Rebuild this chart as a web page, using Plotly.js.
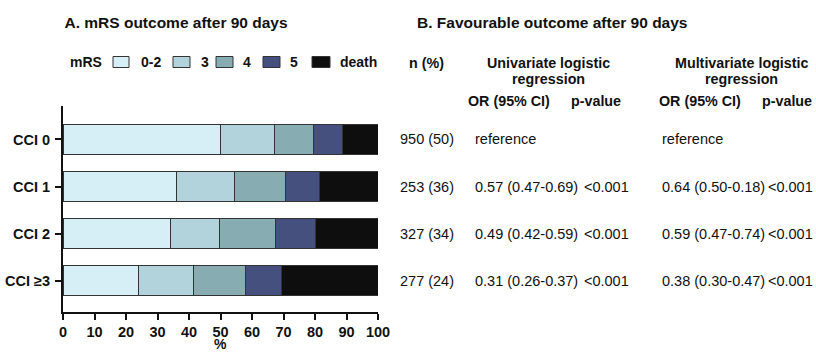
<!DOCTYPE html>
<html>
<head>
<meta charset="utf-8">
<script src="https://cdn.plot.ly/plotly-3.0.1.min.js"></script>
<style>
  html, body { margin: 0; padding: 0; background: #fff; }
  #chart { width: 816px; height: 352px; }
</style>
</head>
<body>
<div id="chart"></div>
<script>
// Comorbidity groups (Charlson Comorbidity Index)
const categories = ['CCI 0', 'CCI 1', 'CCI 2', 'CCI ≥3'];

// mRS distribution after 90 days, % of patients per group
const mrs02 = [50, 36, 34, 24];
const mrs3 = [17, 18.3, 15.8, 17.3];
const mrs4 = [12.4, 16.4, 17.7, 16.7];
const mrs5 = [9.3, 10.6, 12.8, 11.3];
const death = [11.3, 18.7, 19.7, 30.7];

const seriesNames = ['0-2', '3', '4', '5', 'death'];
const seriesColors = ['#d6eef5', '#b2d3db', '#87adb2', '#45507f', '#0e0e0e'];

// Favourable outcome table
const nPct = ['950 (50)', '253 (36)', '327 (34)', '277 (24)'];
const uniOR = ['reference', '0.57 (0.47-0.69)', '0.49 (0.42-0.59)', '0.31 (0.26-0.37)'];
const uniP = ['', '<0.001', '<0.001', '<0.001'];
const multiOR = ['reference', '0.64 (0.50-0.18)', '0.59 (0.47-0.74)', '0.38 (0.30-0.47)'];
const multiP = ['', '<0.001', '<0.001', '<0.001'];

const FONT = 'Liberation Sans, Arial, Helvetica, sans-serif';
const INK = '#111111';

// plot-area geometry in pixels
const L = 63, R = 378, T = 106, B = 312;
const xp = px => (px - L) / (R - L);
const yp = py => (B - py) / (B - T);

const seriesValues = [mrs02, mrs3, mrs4, mrs5, death];
const traces = seriesValues.map((vals, i) => ({
  type: 'bar',
  orientation: 'h',
  name: seriesNames[i],
  y: categories,
  x: vals,
  width: 0.64,
  marker: { color: seriesColors[i], line: { color: '#333333', width: 1 } },
  hoverinfo: 'x+y+name',
  showlegend: false
}));

// hand-placed legend row
const legendBoxes = [[113, 129], [173, 190], [216, 233], [263, 280], [312, 330]];
const legendText = [139, 199, 241, 288, 338];
const legendY = 62;

const shapes = legendBoxes.map((b, i) => ({
  type: 'rect', xref: 'paper', yref: 'paper',
  x0: xp(b[0]), x1: xp(b[1]), y0: yp(legendY + 5.5), y1: yp(legendY - 5.5),
  fillcolor: seriesColors[i], line: { color: '#333333', width: 1 }
}));

const bold = (size) => ({ family: FONT, size: size, color: INK, weight: 'bold' });
const plain = (size) => ({ family: FONT, size: size, color: INK });

const annotations = [];
function note(text, px, py, anchor, font) {
  annotations.push({ text: text, xref: 'paper', yref: 'paper', x: xp(px), y: yp(py),
    xanchor: anchor, yanchor: 'middle', showarrow: false, font: font });
}

note('<b>mRS</b>', 68, legendY, 'left', bold(14));
seriesNames.forEach((n, i) => note('<b>' + n + '</b>', legendText[i], legendY, 'left', bold(14)));

// x-axis unit label, set just below the tick labels
note('<b>%</b>', (L + R) / 2, 344, 'center', bold(14));

// panel B title and table headers
note('<b>B. Favourable outcome after 90 days</b>', 415, 23, 'left', bold(15.5));
note('<b>n (%)</b>', 427, 63, 'center', bold(14.3));
note('<b>Univariate logistic</b>', 548, 63, 'center', bold(14.3));
note('<b>regression</b>', 548, 79, 'center', bold(14.3));
note('<b>Multivariate logistic</b>', 741.5, 63, 'center', bold(14.3));
note('<b>regression</b>', 741.5, 79, 'center', bold(14.3));
note('<b>OR (95% CI)</b>', 509, 101, 'center', bold(14.3));
note('<b>p-value</b>', 596, 101, 'center', bold(14.3));
note('<b>OR (95% CI)</b>', 700, 101, 'center', bold(14.3));
note('<b>p-value</b>', 787, 101, 'center', bold(14.3));

// table rows aligned with the bar rows
const columns = [[nPct, 427, 'center'], [uniOR, 473, 'left'], [uniP, 582, 'left'],
                 [multiOR, 660, 'left'], [multiP, 766, 'left']];
categories.forEach((c, r) => {
  columns.forEach(([col, px, anchor]) => {
    if (!col[r]) return;
    annotations.push({ text: col[r], xref: 'paper', yref: 'y', x: xp(px), y: c,
      xanchor: anchor, yanchor: 'middle', showarrow: false, font: plain(14.5) });
  });
});

const layout = {
  width: 816, height: 352,
  margin: { l: L, r: 816 - R, t: T, b: 352 - B, pad: 0 },
  paper_bgcolor: '#ffffff', plot_bgcolor: '#ffffff',
  barmode: 'stack',
  bargap: 0,
  showlegend: false,
  font: { family: FONT, color: INK },
  title: {
    text: '<b>A. mRS outcome after 90 days</b>',
    font: bold(15.5),
    xref: 'paper', x: xp(64.5), xanchor: 'left',
    yref: 'container', y: 1 - 23 / 352, yanchor: 'middle'
  },
  xaxis: {
    range: [0, 100],
    tickvals: [0, 10, 20, 30, 40, 50, 60, 70, 80, 90, 100],
    ticks: 'outside', ticklen: 6, tickwidth: 2, tickcolor: INK,
    showline: true, linewidth: 2, linecolor: INK,
    showgrid: false, zeroline: false,
    tickfont: bold(14.5),
    automargin: false,
    fixedrange: true
  },
  yaxis: {
    type: 'category',
    range: [3.66, -0.71],
    ticks: 'outside', ticklen: 6, tickwidth: 2, tickcolor: INK,
    showline: true, linewidth: 2, linecolor: INK,
    showgrid: false, zeroline: false,
    tickfont: bold(14.5),
    ticklabelstandoff: 2,
    fixedrange: true
  },
  shapes: shapes,
  annotations: annotations
};

Plotly.newPlot('chart', traces, layout, { displayModeBar: false, staticPlot: true });
</script>
</body>
</html>
